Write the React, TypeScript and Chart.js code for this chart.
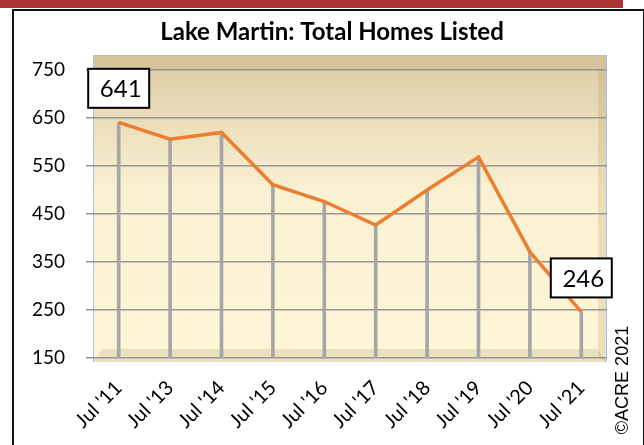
import React, { useEffect, useRef } from "react";
import { Chart, registerables } from "chart.js";

Chart.register(...registerables);

const categories = ["Jul '11", "Jul '13", "Jul '14", "Jul '15", "Jul '16", "Jul '17", "Jul '18", "Jul '19", "Jul '20", "Jul '21"];
const homesListed = [641, 606, 620, 511, 476, 427, 500, 569, 371, 246];
const yTicks = [150, 250, 350, 450, 550, 650, 750];
const titleText = "Lake Martin: Total Homes Listed";
const creditText = "©ACRE 2021";
const labeledIndices = [0, 9];

const framePlugin = {
  id: "frame",
  beforeDraw(chart: any) {
    const { ctx, chartArea: a } = chart;
    const L = a.left, R = a.right, T = a.top - 15, B = a.bottom + 4;
    ctx.save();
    const g = ctx.createLinearGradient(0, T, 0, B);
    g.addColorStop(0, "#dccca3");
    g.addColorStop(0.45, "#faf1d3");
    g.addColorStop(1, "#fff6d8");
    ctx.fillStyle = g;
    ctx.fillRect(L, T, R - L, B - T);
    // top wall
    ctx.fillStyle = "rgba(185,160,105,0.2)";
    ctx.beginPath();
    ctx.moveTo(L, T); ctx.lineTo(R, T); ctx.lineTo(R - 9, a.top); ctx.lineTo(L, a.top); ctx.closePath();
    ctx.fill();
    // right wall
    ctx.fillStyle = "rgba(170,145,95,0.22)";
    ctx.beginPath();
    ctx.moveTo(R - 9, a.top); ctx.lineTo(R, T); ctx.lineTo(R, B); ctx.lineTo(R - 9, a.bottom); ctx.closePath();
    ctx.fill();
    // floor
    ctx.fillStyle = "rgba(185,160,105,0.25)";
    ctx.beginPath();
    ctx.moveTo(L, B); ctx.lineTo(L + 9, a.bottom - 9); ctx.lineTo(R - 9, a.bottom - 9); ctx.lineTo(R, B); ctx.closePath();
    ctx.fill();
    // border
    ctx.strokeStyle = "#a9bfe3";
    ctx.lineWidth = 1;
    ctx.beginPath();
    ctx.moveTo(L + 0.5, B); ctx.lineTo(L + 0.5, T + 0.5); ctx.lineTo(R - 0.5, T + 0.5); ctx.lineTo(R - 0.5, B);
    ctx.stroke();
    ctx.restore();
  },
  afterDraw(chart: any) {
    const { ctx } = chart;
    ctx.save();
    // title
    ctx.fillStyle = "#000";
    ctx.font = "bold 24px Lato";
    ctx.textAlign = "center";
    ctx.textBaseline = "middle";
    ctx.fillText(titleText, 332, 32);
    // data label boxes
    const meta = chart.getDatasetMeta(0);
    labeledIndices.forEach((i) => {
      const p = meta.data[i];
      const w = 61, h = 39;
      const cx = p.x, cy = p.y - 34;
      ctx.fillStyle = "#fff";
      ctx.fillRect(cx - w / 2, cy - h / 2, w, h);
      ctx.strokeStyle = "#000";
      ctx.lineWidth = 2;
      ctx.strokeRect(cx - w / 2, cy - h / 2, w, h);
      ctx.fillStyle = "#000";
      ctx.font = "24px Lato";
      ctx.textAlign = "center";
      ctx.textBaseline = "middle";
      ctx.fillText(String(homesListed[i]), cx + 2, cy + 1);
    });
    // credit
    ctx.translate(623, 380);
    ctx.rotate(-Math.PI / 2);
    ctx.font = "18px 'Liberation Sans'";
    ctx.textAlign = "center";
    ctx.textBaseline = "middle";
    ctx.fillStyle = "#000";
    ctx.fillText(creditText, 0, 0);
    ctx.restore();
  },
};

export default function App() {
  const ref = useRef<HTMLCanvasElement>(null);
  useEffect(() => {
    if (!ref.current) return;
    const chart = new Chart(ref.current, {
      type: "bar",
      data: {
        labels: categories,
        datasets: [
          {
            type: "line",
            data: homesListed,
            borderColor: "#ed7d31",
            borderWidth: 3.5,
            pointRadius: 0,
            tension: 0,
          } as any,
          {
            type: "bar",
            data: homesListed,
            backgroundColor: "#a6a6a6",
            barThickness: 3,
          },
        ],
      },
      options: {
        animation: false,
        responsive: false,
        events: [],
        layout: { padding: { top: 70, right: 37, left: 0, bottom: 0 } },
        plugins: { legend: { display: false }, tooltip: { enabled: false }, title: { display: false } },
        scales: {
          x: {
            type: "category",
            offset: true,
            grid: { display: false },
            border: { display: false },
            ticks: { minRotation: 45, maxRotation: 45, color: "#000", font: { family: "Lato", size: 20 }, padding: 10 },
            afterFit: (s: any) => { s.height = 87; },
          },
          y: {
            min: 150,
            max: 750,
            afterBuildTicks: (s: any) => { s.ticks = yTicks.map((v) => ({ value: v })); },
            grid: { color: "#969696", lineWidth: 1.5, tickLength: 7 },
            border: { display: false },
            ticks: { color: "#000", font: { family: "Lato", size: 19 }, padding: 21 },
            afterFit: (s: any) => { s.width = 93; },
          },
        },
      },
      plugins: [framePlugin],
    });
    return () => chart.destroy();
  }, []);
  return (
    <div style={{ position: "fixed", left: 0, top: 0, width: 644, height: 445, background: "#fff", overflow: "hidden" }}>
      <div style={{ position: "absolute", left: 0, top: 0, width: 623, height: 8, background: "#ab3434" }} />
      <div style={{ position: "absolute", left: 12, top: 9, width: 629, height: 460, border: "2px solid #111" }} />
      <canvas ref={ref} width={644} height={445} style={{ position: "absolute", left: 0, top: 0, width: 644, height: 445 }} />
    </div>
  );
}
